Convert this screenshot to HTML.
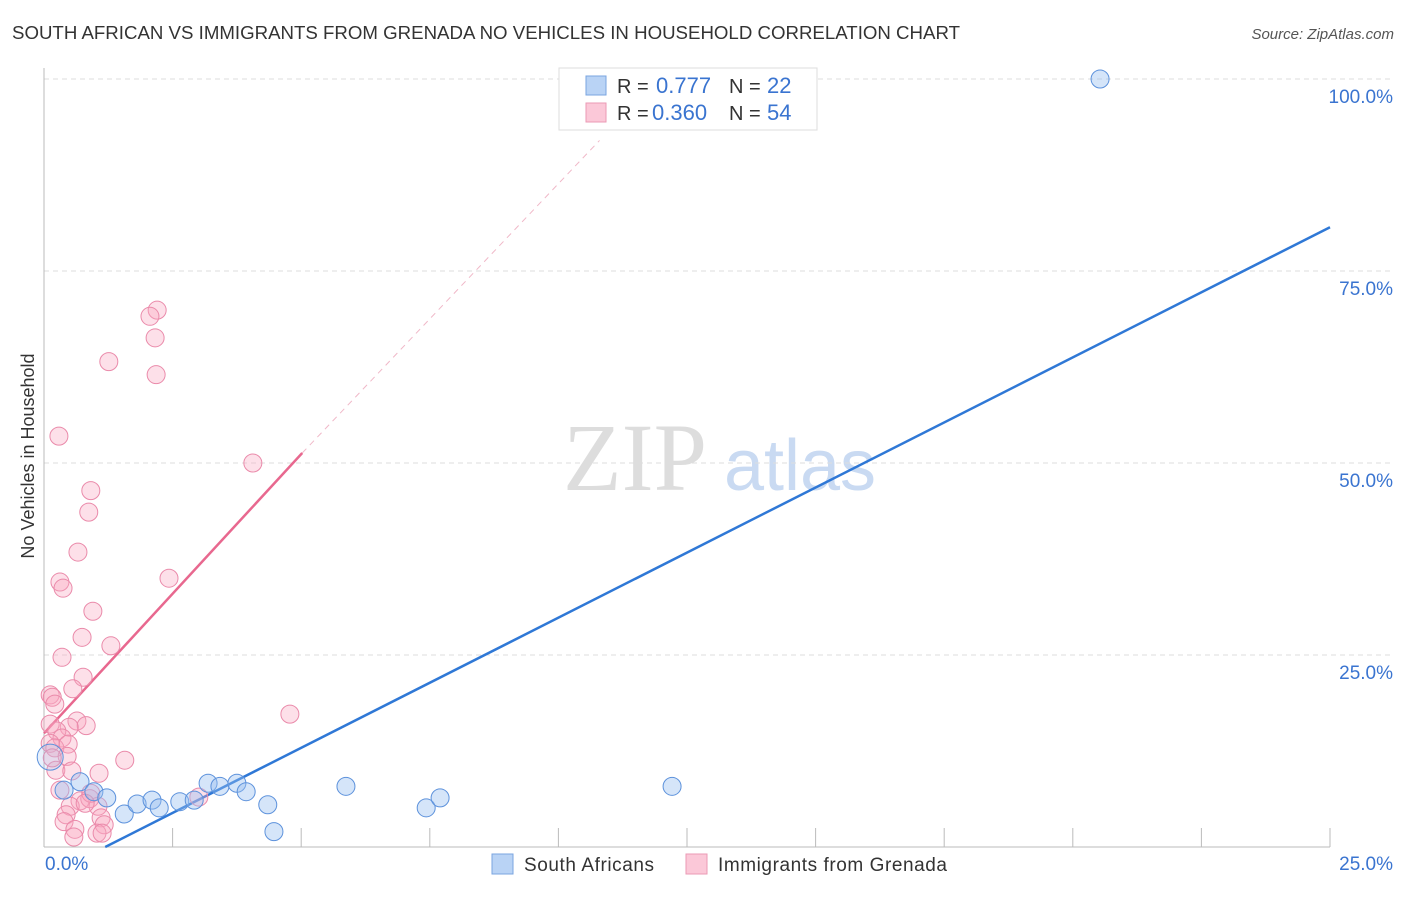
<!DOCTYPE html>
<html><head><meta charset="utf-8"><style>
body{margin:0;background:#fff;font-family:"Liberation Sans",sans-serif}
</style></head><body>
<svg id="chart" width="1406" height="892" xmlns="http://www.w3.org/2000/svg">
<text x="12" y="39" font-size="18" fill="#333" textLength="948" lengthAdjust="spacingAndGlyphs">SOUTH AFRICAN VS IMMIGRANTS FROM GRENADA NO VEHICLES IN HOUSEHOLD CORRELATION CHART</text>
<text x="1394" y="39" font-size="15" fill="#555" text-anchor="end" font-style="italic">Source: ZipAtlas.com</text>
<g>
<text x="635" y="490" font-size="96" fill="#ddd" font-family="Liberation Serif,serif" text-anchor="middle">ZIP</text>
<text x="800" y="490" font-size="72" fill="#c9daf2" text-anchor="middle">atlas</text>
</g>
<g id="grid"></g>
<g id="axes"></g>
<g id="lines"></g>
<g id="pts"></g>
<text transform="translate(34,456) rotate(-90)" font-size="18" fill="#333" text-anchor="middle">No Vehicles in Household</text>
<g>
<rect x="559" y="68" width="258" height="62" fill="#fff" stroke="#ddd"/>
<rect x="586" y="76" width="20" height="19" fill="#b9d3f5" stroke="#7aa5e0"/>
<rect x="586" y="103" width="20" height="19" fill="#fbc8d8" stroke="#eb9ab5"/>
<text x="617" y="93" font-size="20" fill="#333">R = <tspan x="656" fill="#3a74d0" font-size="22">0.777</tspan><tspan x="729">N = </tspan><tspan x="767" fill="#3a74d0" font-size="22">22</tspan></text>
<text x="617" y="120" font-size="20" fill="#333">R = <tspan x="652" fill="#3a74d0" font-size="22">0.360</tspan><tspan x="729">N = </tspan><tspan x="767" fill="#3a74d0" font-size="22">54</tspan></text>
</g>
<g>
<rect x="492" y="854" width="21" height="20" fill="#b9d3f5" stroke="#7aa5e0"/>
<text x="524" y="871" font-size="19" fill="#333" textLength="130">South Africans</text>
<rect x="686" y="854" width="21" height="20" fill="#fbc8d8" stroke="#eb9ab5"/>
<text x="718" y="871" font-size="19" fill="#333" textLength="229">Immigrants from Grenada</text>
</g>
</svg>
<script>
const blueX=[20.53,0.39,0.70,0.97,1.22,1.56,1.81,2.10,2.24,2.64,2.92,3.19,3.42,3.75,3.93,4.35,4.47,5.87,7.43,7.70,12.21,0.12];
const blueY=[100,7.4,8.5,7.2,6.4,4.3,5.6,6.1,5.1,5.9,6.1,8.3,7.9,8.3,7.2,5.5,2.0,7.9,5.1,6.4,7.9,11.7];
const pinkX=[2.20,2.06,2.16,2.18,1.26,0.29,4.06,0.91,0.87,0.66,2.43,0.31,0.37,0.95,0.74,1.30,0.35,0.76,0.56,0.12,0.16,0.21,4.78,0.64,0.82,0.49,0.12,0.25,0.35,0.12,0.21,0.47,0.45,1.57,0.23,0.54,1.07,3.01,0.70,0.89,1.05,0.51,0.91,0.43,1.11,0.39,0.60,1.17,1.03,1.13,0.58,0.80,0.31,0.16];
const pinkY=[69.9,69.1,66.3,61.5,63.2,53.5,50.0,46.4,43.6,38.4,35.0,34.5,33.7,30.7,27.3,26.2,24.7,22.1,20.6,19.8,19.5,18.6,17.3,16.4,15.8,15.6,16.0,15.1,14.2,13.5,12.9,13.4,11.8,11.3,10.0,9.9,9.6,6.5,6.0,6.3,5.3,5.3,7.0,4.2,3.8,3.3,2.3,2.9,1.8,1.8,1.3,5.7,7.4,11.6];
const blueLine=[[1.19,0],[25,80.7]];
const pinkLine=[[0,14.8],[5.02,51.3]];
const pinkDash=[[5.02,51.3],[10.8,92]];
const yTicks=[25,50,75,100];
const yTickLabels=["25.0%","50.0%","75.0%","100.0%"];
const xTicks=[0,2.5,5,7.5,10,12.5,15,17.5,20,22.5,25];

const NS="http://www.w3.org/2000/svg";
const X=v=>44+v/25*1286, Y=v=>847-v*7.68;
function mk(t,a,p){const e=document.createElementNS(NS,t);for(const k in a)e.setAttribute(k,a[k]);document.getElementById(p).appendChild(e);return e;}
yTicks.forEach((t,i)=>{
 let g=mk('line',{x1:44,x2:1394,y1:Y(t),y2:Y(t),stroke:'#ddd','stroke-dasharray':'5,4'},'grid');
 
 
 let l=mk('text',{x:1393,y:Y(t)+24,'font-size':19,fill:'#3a74d0','text-anchor':'end'},'axes');
 l.textContent=yTickLabels[i];
 
 
});
let ax=mk('line',{x1:44,x2:44,y1:68,y2:847,stroke:'#bbb'},'axes');


let bx=mk('line',{x1:44,x2:1330,y1:847,y2:847,stroke:'#bbb'},'axes');


xTicks.forEach(t=>{if(t===0)return;
 let k=mk('line',{x1:X(t),x2:X(t),y1:828,y2:847,stroke:'#bbb'},'axes');
 
 
});
let x0=mk('text',{x:45,y:870,'font-size':19,fill:'#3a74d0'},'axes');x0.textContent='0.0%';


let x1=mk('text',{x:1393,y:870,'font-size':19,fill:'#3a74d0','text-anchor':'end'},'axes');x1.textContent='25.0%';


function ln(p,st,dash,name){let e=mk('line',{x1:X(p[0][0]),y1:Y(p[0][1]),x2:X(p[1][0]),y2:Y(p[1][1]),stroke:st,'stroke-width':dash?1:2.5},'lines');if(dash)e.setAttribute('stroke-dasharray','6,5');
 
 }
ln(pinkDash,'#f0b8c8',true,'grenada-trend-extension');
ln(pinkLine,'#e8688f',false,'grenada-trend-line');
ln(blueLine,'#2f78d6',false,'south-african-trend-line');
pinkX.forEach((v,i)=>{let c=mk('circle',{cx:X(v),cy:Y(pinkY[i]),r:9,fill:'rgba(248,165,192,0.35)',stroke:'#ea8aaa','stroke-width':1},'pts');
 
 });
blueX.forEach((v,i)=>{const big=i===blueX.length-1;let c=mk('circle',{cx:X(v),cy:Y(blueY[i]),r:big?13:9,fill:big?'rgba(150,190,240,0.22)':'rgba(150,190,240,0.4)',stroke:'#5d92dc','stroke-width':1},'pts');
 
 });
</script>
</body></html>
